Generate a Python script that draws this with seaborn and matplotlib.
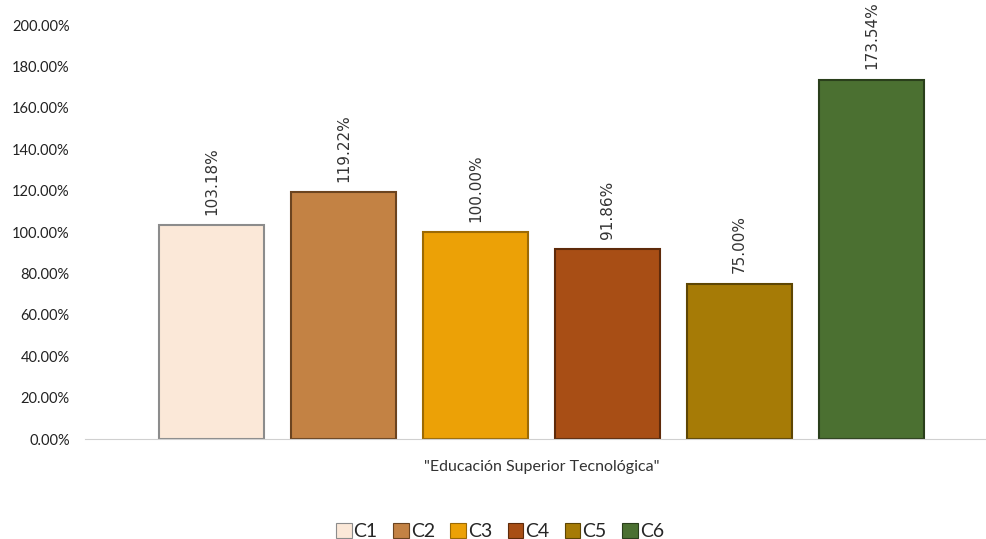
import pandas as pd
import matplotlib.pyplot as plt
import seaborn as sns
from matplotlib.ticker import FuncFormatter

# data
categories = ['C1', 'C2', 'C3', 'C4', 'C5', 'C6']
values = [103.18, 119.22, 100.00, 91.86, 75.00, 173.54]
group = '"Educación Superior Tecnológica"'
colors = ['#FBE8D8', '#C38244', '#ECA106', '#A84E15', '#A67B06', '#4B7031']
edges = ['#8C8C8C', '#6B4420', '#9C6A04', '#5E2A0A', '#5E4603', '#2A3F1B']

df = pd.DataFrame({'grupo': [group] * len(categories), 'cat': categories, 'val': values})

sns.set_style('white')
plt.rcParams['font.family'] = ['Lato', 'DejaVu Sans']

fig = plt.figure(figsize=(9.86, 5.39), dpi=100)
ax = fig.add_axes([0.0862, 0.1855, 0.913, 0.768])

sns.barplot(data=df, x='grupo', y='val', hue='cat', palette=colors, saturation=1,
            width=0.88, gap=0.2, legend=False, ax=ax)

for patch, ec in zip(ax.patches, edges):
    patch.set_edgecolor(ec)
    patch.set_linewidth(1.5)

# value labels, rotated
for patch, v in zip(ax.patches, values):
    x = patch.get_x() + patch.get_width() / 2
    ax.text(x, patch.get_height() + 5, '%.2f%%' % v, rotation=90, ha='center', va='bottom',
            fontsize=11, color='#333333', family='DejaVu Sans')

ax.set_ylim(0, 200)
ax.set_xlim(-0.507, 0.493)
ax.set_yticks(range(0, 201, 20))
ax.yaxis.set_major_formatter(FuncFormatter(lambda v, p: '%.2f%%' % v))
ax.tick_params(axis='y', labelsize=10.5, colors='#222222', length=0, pad=11)
ax.tick_params(axis='x', labelsize=11.5, colors='#333333', length=0, pad=15)
ax.set_xlabel('')
ax.set_ylabel('')
for s in ['top', 'right', 'left']:
    ax.spines[s].set_visible(False)
ax.spines['bottom'].set_color('#D0D0D0')

handles = [plt.Rectangle((0, 0), 1, 1, facecolor=c, edgecolor=e, linewidth=0.8) for c, e in zip(colors, edges)]
fig.legend(handles, categories, loc='lower center', ncol=6, frameon=False,
           fontsize=14, bbox_to_anchor=(0.507, -0.035), handlelength=0.8, handleheight=0.8,
           handletextpad=0.1, columnspacing=0.8)

plt.savefig('out.png', dpi=100)
